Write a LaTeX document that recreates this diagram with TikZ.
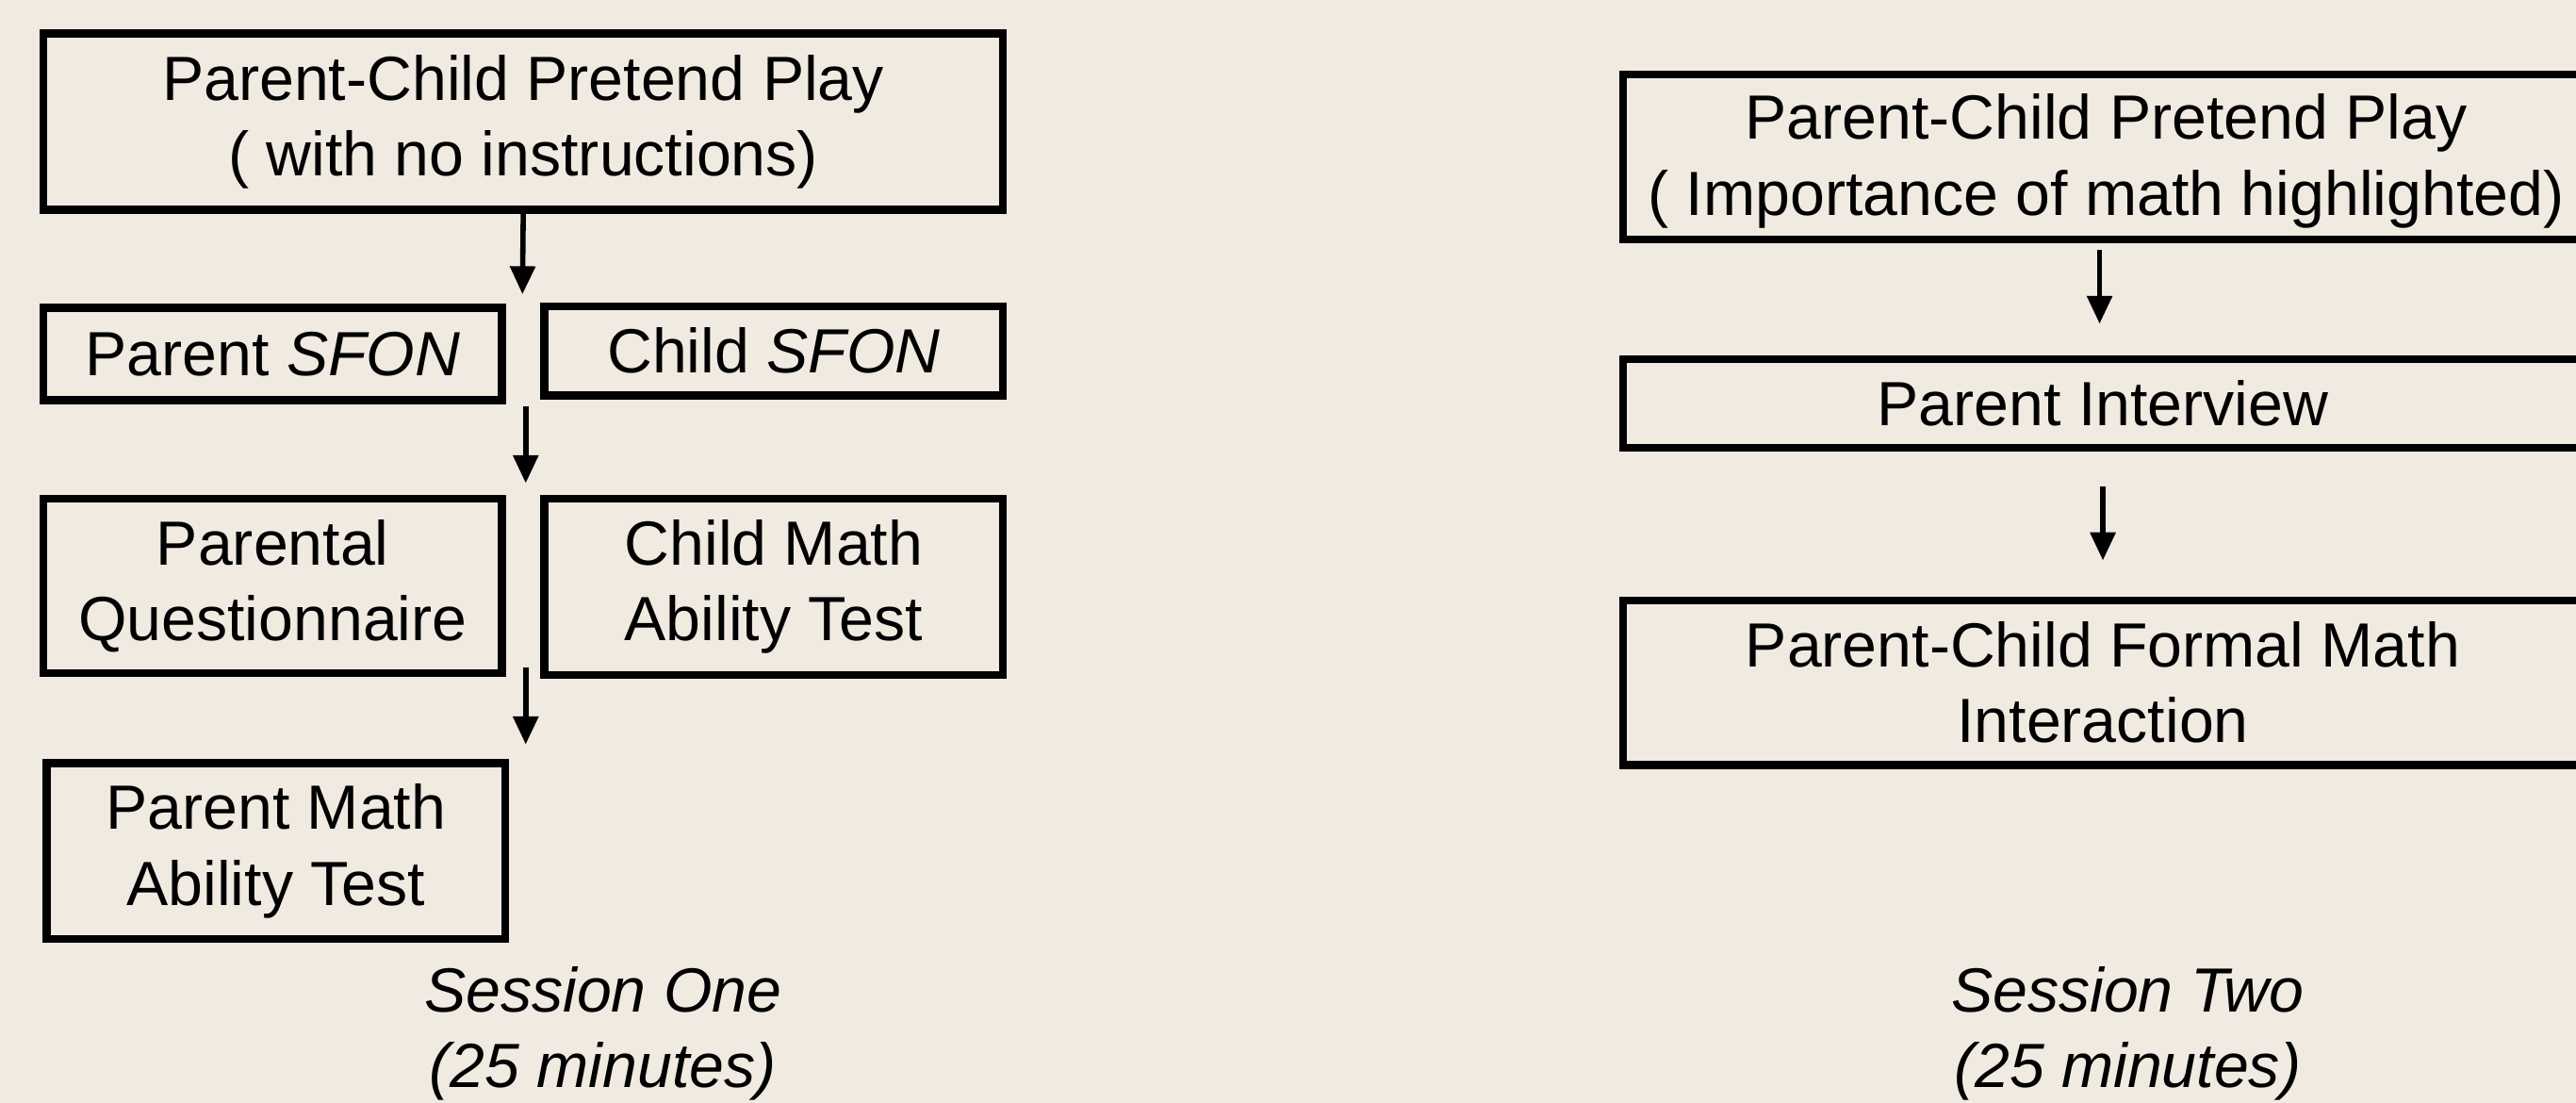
\documentclass[tikz,border=0pt]{standalone}
\usepackage{fontspec}
\setmainfont{Liberation Sans}
\usetikzlibrary{arrows.meta}
\definecolor{paper}{RGB}{240,234,224}
\tikzset{
  stage/.style={draw=black, line width=2.4pt, inner sep=0pt, align=center,
    font=\fontsize{19}{23}\selectfont},
  wide/.style={stage, minimum width=292pt},
  half/.style={stage, minimum width=139.6pt},
  flow/.style={line width=1.6pt, -{Triangle[length=8.5pt,width=7.5pt]}},
  caption/.style={align=center, font=\fontsize{19}{23}\selectfont\itshape}
}
\begin{document}
\begin{tikzpicture}[x=0.5pt, y=-0.5pt]
  \useasboundingbox (0,0) rectangle (1568,671);
  \fill[paper] (0,0) rectangle (1568,671);
  \clip (0,0) rectangle (1568,671);

  % Session one
  \node[wide, minimum height=53.6pt] (ltop) at (318.5,74)
    {Parent-Child Pretend Play\\( with no instructions)};
  \node[half, minimum height=28.1pt] (psfon) at (166,215.5) {Parent \textit{SFON}};
  \node[half, minimum height=27.1pt] (csfon) at (471,213.5) {Child \textit{SFON}};
  \node[half, minimum height=53.1pt] (pquest) at (166,356.5) {Parental\\Questionnaire};
  \node[half, minimum height=53.6pt] (cmath) at (471,357) {Child Math\\Ability Test};
  \node[half, minimum height=53.6pt] (pmath) at (168,518) {Parent Math\\Ability Test};
  \node[caption] (s1) at (367,629) {Session One\\(25 minutes)};

  \coordinate (a1e) at (318,179);
  \coordinate (a2s) at (320,247);
  \coordinate (a2e) at (320,294);
  \coordinate (a3s) at (320,406);
  \coordinate (a3e) at (320,453);
  \draw[flow] (ltop.south) -- (a1e);
  \draw[flow] (a2s) -- (a2e);
  \draw[flow] (a3s) -- (a3e);

  % Session two
  \node[wide, minimum height=50.1pt] (rtop) at (1280,95.5) {};
  \node[align=center, font=\fontsize{19}{23}\selectfont] (rtoptext) at (1282,98)
    {Parent-Child Pretend Play\\( Importance of math highlighted)};
  \node[wide, minimum height=27.1pt] (intv) at (1280,245.5) {Parent Interview};
  \node[wide, minimum height=50.1pt] (formal) at (1280,415.5)
    {Parent-Child Formal Math\\Interaction};
  \node[caption] (s2) at (1295,629) {Session Two\\(25 minutes)};

  \coordinate (b1s) at (1278,152);
  \coordinate (b1e) at (1278,197);
  \coordinate (b2s) at (1280,296);
  \coordinate (b2e) at (1280,341);
  \draw[flow] (b1s) -- (b1e);
  \draw[flow] (b2s) -- (b2e);
\end{tikzpicture}
\end{document}
